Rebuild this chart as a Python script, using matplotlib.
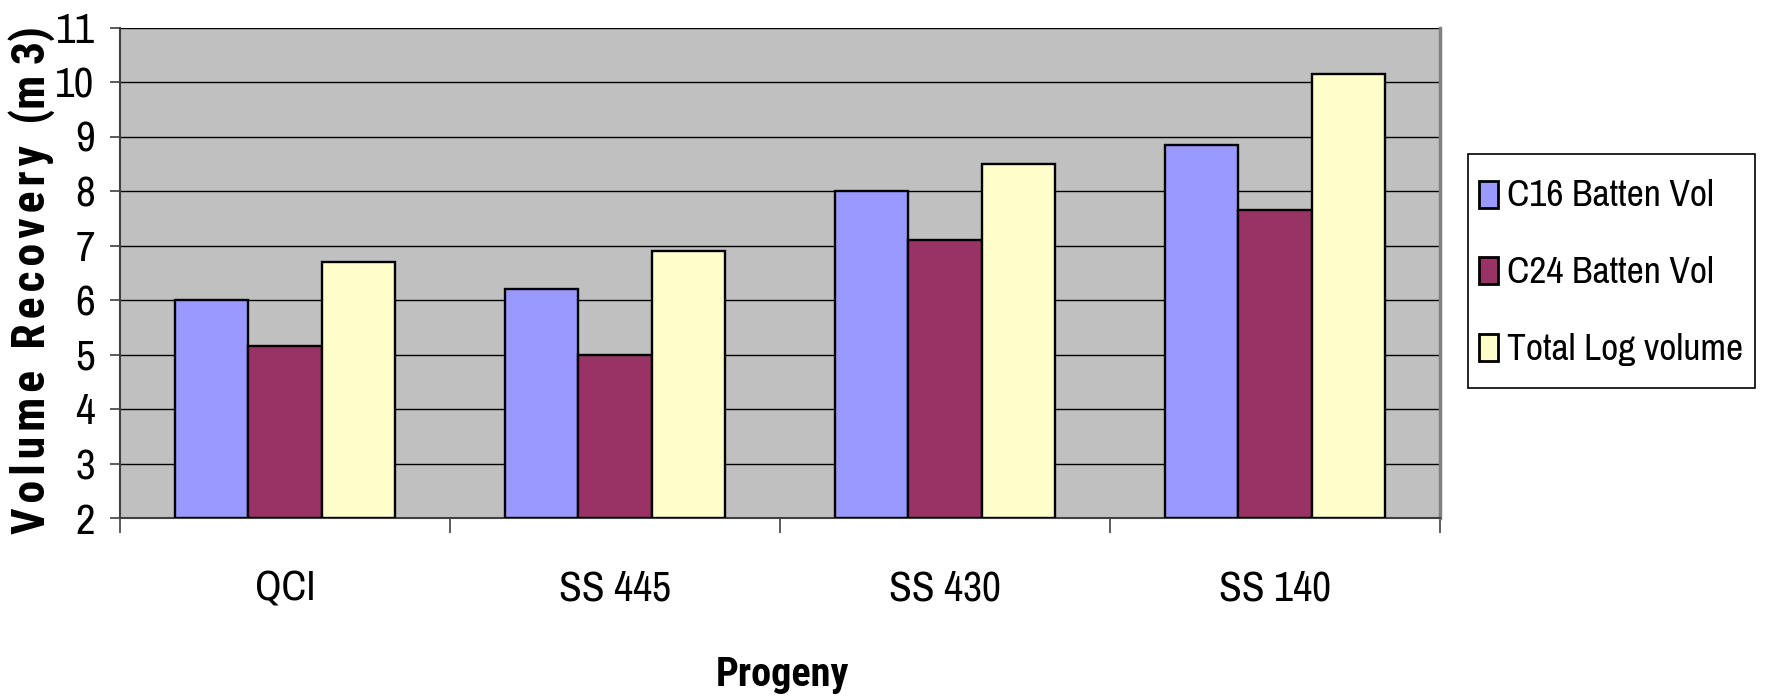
import matplotlib
matplotlib.use("Agg")
import matplotlib.pyplot as plt
import matplotlib.patches as mpatches
from matplotlib.container import BarContainer
from matplotlib.legend_handler import HandlerPatch, update_from_first_child
import numpy as np

# Volume recovery per progeny
progeny = ["QCI", "SS 445", "SS 430", "SS 140"]
c16_vol = [6.0, 6.2, 8.0, 8.85]
c24_vol = [5.15, 5.0, 7.1, 7.65]
total_log = [6.7, 6.9, 8.5, 10.15]
series_names = ["C16 Batten Vol", "C24 Batten Vol", "Total Log volume"]
colors = ["#9999FF", "#993366", "#FFFFCC"]

narrow = ["Archivo Narrow", "Liberation Sans", "DejaVu Sans"]
narrow_bold = ["Roboto Condensed", "Fira Sans Condensed", "DejaVu Sans"]

fig = plt.figure(figsize=(17.66, 6.97), dpi=100)
ax = fig.add_axes([120 / 1766, 1 - 518 / 697, 1320 / 1766, 490.5 / 697])
ax.set_facecolor("#C0C0C0")

x = np.arange(len(progeny))
w = 1 / 4.5
for i, (vals, name, col) in enumerate(zip([c16_vol, c24_vol, total_log], series_names, colors)):
    ax.bar(x + (i - 1) * w, np.array(vals) - 2, bottom=2, width=w, color=col,
           edgecolor="black", linewidth=1.7, label=name, zorder=3)

ax.set_xlim(-0.5, len(progeny) - 0.5)
ax.set_ylim(2, 11)
ax.set_yticks(range(2, 12))
ax.yaxis.grid(True, color="black", linewidth=1.0, zorder=1)

# category labels centred, tick marks on the boundaries
ax.set_xticks(x)
ax.set_xticklabels(progeny, family=narrow, fontsize=30)
ax.tick_params(axis="x", length=0, pad=37)
ax.set_xticks(np.arange(-0.5, len(progeny)), minor=True)
ax.tick_params(axis="x", which="minor", length=11, width=1.2, color="#404040")
ax.tick_params(axis="y", length=7.2, width=1.2, color="#404040", pad=11)
for lab in ax.get_yticklabels():
    lab.set_family(narrow)
    lab.set_fontsize(31)

for side in ["left", "bottom"]:
    ax.spines[side].set_color("#404040")
    ax.spines[side].set_linewidth(1.5)
ax.spines["right"].set_color("#808080")
ax.spines["right"].set_linewidth(2.5)
ax.spines["top"].set_visible(False)

ylabel = "\u200a".join("Volume") + "  " + "\u200a".join("Recovery") + "  (m 3)"
fig.text(32 / 1766, 1 - 280 / 697, ylabel, rotation=90,
         ha="center", va="center", fontsize=33, fontweight="bold", family=narrow_bold)
fig.text(782 / 1766, 1 - 675 / 697, "Progeny", ha="center", va="center",
         fontsize=29, fontweight="bold", family=narrow_bold)


# small square keys, centred in tall legend rows
def small_box(legend, orig_handle, xdescent, ydescent, width, height, fontsize):
    h = 0.72 * fontsize
    return mpatches.Rectangle((-xdescent, -ydescent + (height - h) / 2), width, h)


leg = ax.legend(loc="upper left", bbox_to_anchor=(1468 / 1766, 1 - 154 / 697),
                bbox_transform=fig.transFigure, fancybox=False, framealpha=1,
                edgecolor="black", handlelength=0.5, handleheight=2.0,
                handletextpad=0.25, labelspacing=0.5, borderpad=0.3,
                borderaxespad=0, prop={"family": narrow, "size": 27},
                handler_map={BarContainer: HandlerPatch(patch_func=small_box,
                                                        update_func=update_from_first_child)})
leg.get_frame().set_linewidth(1.2)
for h in leg.legend_handles:
    h.set_linewidth(2)

fig.savefig("out.png", dpi=100)
